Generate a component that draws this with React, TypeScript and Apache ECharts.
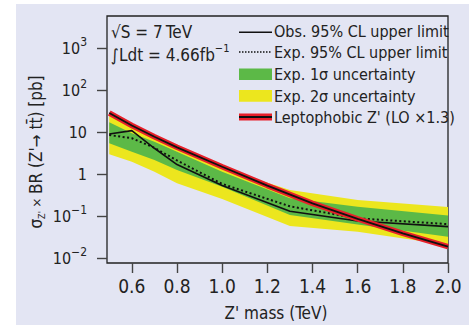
import React, { useEffect, useRef } from "react";
import * as echarts from "echarts";

// ---- data (cross sections in pb, masses in TeV) ----
const massPoints = [0.5, 0.6, 0.7, 0.8, 1.0, 1.3, 1.6, 2.0];
const observed = [8.96, 10.8, 4.1, 1.68, 0.53, 0.13, 0.076, 0.056];
const expected = [8.5, 7.1, 4.2, 2.1, 0.58, 0.17, 0.088, 0.064];
const oneSigmaUp = [17.0, 9.3, 5.9, 3.4, 1.13, 0.264, 0.166, 0.103];
const oneSigmaDown = [5.4, 3.4, 2.15, 1.25, 0.5, 0.106, 0.063, 0.032];
const twoSigmaUp = [25.4, 13.2, 7.2, 3.94, 1.39, 0.416, 0.24, 0.164];
const twoSigmaDown = [2.94, 1.96, 1.13, 0.6, 0.254, 0.058, 0.042, 0.0204];
const theoryMass = [0.5, 0.6, 0.7, 0.8, 1.0, 1.2, 1.4, 1.6, 1.8, 2.0];
const theory = [28.3, 14.3, 7.7, 4.32, 1.49, 0.53, 0.2, 0.085, 0.0387, 0.0186];
const xTicks = [0.6, 0.8, 1.0, 1.2, 1.4, 1.6, 1.8, 2.0];
const yTickExps = [-2, -1, 0, 1, 2, 3];

const FONT = '"DejaVu Sans Condensed", "Liberation Sans Narrow", "Arial Narrow", "Liberation Sans", sans-serif';
const GREEN = "#5cb947";
const YELLOW = "#ece61e";
const RED = "#e8202a";
const BG = "#e3e5f3";
const INK = "#222";

const lg = (v: number) => Math.log10(v);

function band(lo: number[], hi: number[], color: string, z: number) {
  return {
    type: "custom",
    z,
    silent: true,
    data: massPoints.map((m, i) => [m, lg(lo[i]), lg(hi[i])]),
    encode: { x: 0, y: [1, 2] },
    renderItem: (params: any, api: any) => {
      if (params.dataIndex !== 0) return null;
      const upper = massPoints.map((m, i) => api.coord([m, lg(hi[i])]));
      const lower = massPoints.map((m, i) => api.coord([m, lg(lo[i])])).reverse();
      return { type: "polygon", shape: { points: upper.concat(lower) }, style: { fill: color } };
    },
  };
}

export default function App() {
  const ref = useRef<HTMLDivElement>(null);
  useEffect(() => {
    if (!ref.current) return;
    const chart = echarts.init(ref.current, null, { renderer: "svg" });
    const pts = (ys: number[]) => massPoints.map((m, i) => [m, lg(ys[i])]);
    const yLabel = (v: number) => {
      const e = Math.round(v);
      if (e === 0) return "{b|1}";
      if (e === 1) return "{b|10}";
      return "{b|10}{s|" + (e < 0 ? "\u2212" + -e : e) + "}";
    };
    const txt = (x: number, y: number, text: string, size = 16) => ({
      type: "text", x, y, style: { text, fontSize: size, fontFamily: FONT, fill: INK, verticalAlign: "middle" },
    });
    chart.setOption({
      animation: false,
      textStyle: { fontFamily: FONT },
      grid: { left: 107, right: 24, top: 16, bottom: 62, show: true, borderColor: "#222", borderWidth: 1.3, backgroundColor: "transparent" },
      xAxis: {
        type: "value", min: 0.49, max: 2.0,
        axisLine: { show: false, onZero: false },
        splitLine: { show: false },
        axisTick: { show: true, length: 10, customValues: xTicks, lineStyle: { color: "#444", width: 1.4 } },
        axisLabel: { customValues: xTicks, formatter: (v: number) => v.toFixed(1), fontSize: 19, color: INK, margin: 13, fontFamily: FONT },
      },
      yAxis: {
        type: "value", min: -2.119, max: 3.762,
        axisLine: { show: false, onZero: false },
        splitLine: { show: false },
        axisTick: { show: true, length: 10, customValues: yTickExps, lineStyle: { color: "#444", width: 1.4 } },
        axisLabel: {
          customValues: yTickExps, formatter: yLabel, margin: 20, align: "right",
          rich: {
            b: { fontSize: 16, lineHeight: 24, color: INK, fontFamily: FONT },
            s: { fontSize: 12, lineHeight: 12, verticalAlign: "top", color: INK, fontFamily: FONT },
          },
        },
      },
      graphic: [
        { type: "rect", z: -100, silent: true, shape: { x: 16, y: 4, width: 453, height: 321 }, style: { fill: BG } },
        { type: "text", x: 36, y: 152, rotation: Math.PI / 2, style: {
          text: "{t|\u03c3}{sub|Z'}{m| \u00d7 }{t|BR (Z'\u2192 tt\u0304) [pb]}", align: "center", verticalAlign: "middle",
          rich: {
            t: { fontSize: 17, fontFamily: FONT, fill: INK, lineHeight: 20 },
            sub: { fontSize: 9, fontFamily: FONT, fill: INK, verticalAlign: "bottom", lineHeight: 10 },
            m: { fontSize: 13, fontFamily: FONT, fill: INK, lineHeight: 20 },
          } } },
        { type: "text", x: 276, y: 313, style: { text: "Z' mass (TeV)", fontSize: 17, fontFamily: FONT, fill: INK, align: "center", verticalAlign: "middle" } },
        txt(111, 32, "\u221aS = 7\u2009TeV", 17),
        { type: "text", x: 111, y: 55, style: {
          text: "{a|\u222bLdt = 4.66fb}{s|\u22121}", verticalAlign: "middle",
          rich: {
            a: { fontSize: 17, fontFamily: FONT, fill: INK, lineHeight: 24 },
            s: { fontSize: 11, fontFamily: FONT, fill: INK, verticalAlign: "top", lineHeight: 12 },
          } } },
        // legend
        { type: "line", shape: { x1: 239, y1: 32.3, x2: 272, y2: 32.3 }, style: { stroke: "#111", lineWidth: 1.6 } },
        txt(274, 31.5, "Obs. 95% CL upper limit"),
        { type: "line", shape: { x1: 239, y1: 52, x2: 272, y2: 52 }, style: { stroke: "#111", lineWidth: 1.6, lineDash: [1.5, 1.5] } },
        txt(274, 52.5, "Exp. 95% CL upper limit"),
        { type: "rect", shape: { x: 239, y: 68.5, width: 33, height: 11.5 }, style: { fill: GREEN } },
        txt(274, 74.5, "Exp. 1\u03c3 uncertainty"),
        { type: "rect", shape: { x: 239, y: 90, width: 33, height: 11.7 }, style: { fill: YELLOW } },
        txt(274, 96, "Exp. 2\u03c3 uncertainty"),
        { type: "rect", shape: { x: 239, y: 113.5, width: 33, height: 7 }, style: { fill: RED } },
        { type: "line", shape: { x1: 239, y1: 117, x2: 272, y2: 117 }, style: { stroke: "#111", lineWidth: 1.8 } },
        txt(274, 117.5, "Leptophobic Z' (LO \u00d71.3)"),
      ],
      series: [
        band(twoSigmaDown, twoSigmaUp, YELLOW, 1),
        band(oneSigmaDown, oneSigmaUp, GREEN, 2),
        { type: "line", data: pts(expected), symbol: "none", lineStyle: { color: "#111", width: 2, type: [2, 2.5] }, z: 3 },
        { type: "line", data: pts(observed), symbol: "none", lineStyle: { color: "#111", width: 1.6 }, z: 3 },
        { type: "line", data: theoryMass.map((m, i) => [m, lg(theory[i])]), symbol: "none", lineStyle: { color: RED, width: 5.5 }, z: 4 },
        { type: "line", data: theoryMass.map((m, i) => [m, lg(theory[i])]), symbol: "none", lineStyle: { color: "#111", width: 1.8 }, z: 5 },
      ],
    });
    return () => chart.dispose();
  }, []);
  return <div ref={ref} style={{ position: "absolute", left: 0, top: 0, width: 472, height: 325 }} />;
}
